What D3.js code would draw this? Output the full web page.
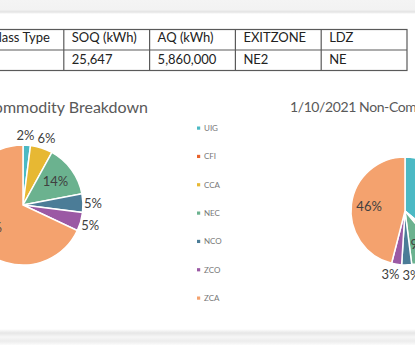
<!DOCTYPE html>
<html><head><meta charset="utf-8">
<script src="https://cdn.jsdelivr.net/npm/d3@7"></script>
<style>html,body{margin:0;padding:0;background:#fff;overflow:hidden}svg{display:block;font-family:Lato,"Open Sans",sans-serif}</style>
</head><body>
<svg id="c" width="415" height="345"></svg>
<script>
const categories = ["UIG","CFI","CCA","NEC","NCO","ZCO","ZCA"];
const commodityValues = [2,0,6,14,5,5,68];
const nonCommodityValues = [36,1,2,9,3,3,46];
const sliceColors = ["#4bb9c4","#e8622c","#e7b833","#6bb28f","#4b7c97","#9b59a4","#f4a26e"];
const tableHeaders = ["Class Type","SOQ (kWh)","AQ (kWh)","EXITZONE","LDZ"];
const tableRow = ["","25,647","5,860,000","NE2","NE"];
const titles = ["1/10/2021 Commodity Breakdown","1/10/2021 Non-Commodity Breakdown"];

const svg = d3.select("#c");
const W = 415, H = 345;
const defs = svg.append("defs");
const gTop = defs.append("linearGradient").attr("id","shTop").attr("x1",0).attr("x2",0).attr("y1",0).attr("y2",1);
gTop.append("stop").attr("offset",0).attr("stop-color","#f4f4f4");
gTop.append("stop").attr("offset",0.7).attr("stop-color","#f2f2f2");
gTop.append("stop").attr("offset",0.85).attr("stop-color","#e3e3e3");
gTop.append("stop").attr("offset",1).attr("stop-color","#ffffff");
const gBot = defs.append("linearGradient").attr("id","shBot").attr("x1",0).attr("x2",0).attr("y1",0).attr("y2",1);
gBot.append("stop").attr("offset",0).attr("stop-color","#ffffff");
gBot.append("stop").attr("offset",0.25).attr("stop-color","#e6e6e6");
gBot.append("stop").attr("offset",0.5).attr("stop-color","#f6f6f6");
gBot.append("stop").attr("offset",0.75).attr("stop-color","#ececec");
gBot.append("stop").attr("offset",1).attr("stop-color","#fbfbfb");

svg.append("rect").attr("width",W).attr("height",H).attr("fill","#fff");
svg.append("rect").attr("x",0).attr("y",0).attr("width",W).attr("height",14).attr("fill","url(#shTop)");
svg.append("rect").attr("x",0).attr("y",329).attr("width",W).attr("height",16).attr("fill","url(#shBot)");

// Table
const col = d3.scaleBand().domain(tableHeaders).range([-22, 407]);
const rowY = d3.scaleBand().domain(["h","r"]).range([29.5, 70.5]);
const tbl = svg.append("g");
tbl.append("rect").attr("x",col.range()[0]).attr("y",29.5).attr("width",col.range()[1]-col.range()[0]).attr("height",41)
  .attr("fill","none").attr("stroke","#5a5a5a").attr("stroke-width",1.2);
tbl.append("line").attr("x1",col.range()[0]).attr("x2",col.range()[1]).attr("y1",rowY("r")).attr("y2",rowY("r"))
  .attr("stroke","#5a5a5a").attr("stroke-width",1.2);
tableHeaders.slice(1).forEach(h=>{
  tbl.append("line").attr("x1",col(h)).attr("x2",col(h)).attr("y1",29.5).attr("y2",70.5).attr("stroke","#5a5a5a").attr("stroke-width",1.2);
});
tableHeaders.forEach((h,i)=>{
  const x0 = col(h);
  tbl.append("text").attr("x", i===0 ? x0+col.bandwidth()-14 : x0+8).attr("y",42)
    .attr("text-anchor", i===0 ? "end":"start")
    .attr("font-size",13).attr("fill","#222").text(h);
  tbl.append("text").attr("x",x0+8).attr("y",64).attr("font-size",13).attr("fill","#222").text(tableRow[i]);
});

// Pies
function drawPie(values, cx, cy, r, title, titleX, titleAnchor, titleY, titleSize, titleSpacing){
  const g = svg.append("g");
  g.append("text").attr("x",titleX).attr("y",titleY).attr("text-anchor",titleAnchor)
    .attr("font-size",titleSize).attr("letter-spacing",titleSpacing).attr("fill","#595959").text(title);
  const data = categories.map((c,i)=>({cat:c, v:values[i], color:sliceColors[i]}));
  const total = d3.sum(values);
  const arcs = d3.pie().sort(null).value(d=>d.v).startAngle(0)(data);
  const arc = d3.arc().innerRadius(0).outerRadius(r);
  const pg = g.append("g").attr("transform",`translate(${cx},${cy})`);
  const shown = arcs.filter(a=>a.data.v>0);
  pg.selectAll("path").data(shown).join("path")
    .attr("d",arc).attr("fill",d=>d.data.color).attr("stroke","#fff").attr("stroke-width",1.5);
  const inArc = d3.arc().innerRadius(r*0.67).outerRadius(r*0.67);
  const outArc = d3.arc().innerRadius(r+10).outerRadius(r+10);
  const labels = shown.map(d=>{
    const pct = d.data.v/total*100;
    const inside = pct>=9;
    const c = (inside ? inArc : outArc).centroid(d);
    const txt = Math.round(pct)+"%";
    return {x:c[0], y:c[1], inside, txt, w: txt.length*8.5};
  });
  // simple collision relaxation for outside labels
  const outs = labels.filter(l=>!l.inside);
  for(let it=0; it<40; it++){
    for(let i=0;i<outs.length;i++) for(let j=i+1;j<outs.length;j++){
      const a=outs[i], b=outs[j];
      const minDx = (a.w+b.w)/2 + 4;
      const dx = b.x-a.x, dy = b.y-a.y;
      if(Math.abs(dy) < 13 && Math.abs(dx) < minDx){
        const push = (minDx-Math.abs(dx))/2 + 0.01;
        const s = dx>=0 ? 1 : -1;
        a.x -= s*push; b.x += s*push;
      }
    }
  }
  pg.selectAll("text").data(labels).join("text")
    .attr("x",d=>d.x).attr("y",d=>d.y)
    .attr("text-anchor","middle").attr("dominant-baseline","central")
    .attr("font-size",13).attr("fill","#404040")
    .text(d=>d.txt);
}
drawPie(commodityValues, 23, 205, 60, titles[0], 148, "end", 113, 16, 0);
drawPie(nonCommodityValues, 405, 211, 54, titles[1], 290, "start", 112, 14, -0.4);

// Legend
const ly = d3.scalePoint().domain(categories).range([128, 298]);
const lg = svg.append("g");
categories.forEach((c,i)=>{
  lg.append("rect").attr("x",197).attr("y",ly(c)-1.5).attr("width",3.2).attr("height",3.2).attr("fill",sliceColors[i]);
  lg.append("text").attr("x",204).attr("y",ly(c)).attr("dominant-baseline","central")
    .attr("font-size",8).attr("fill","#777").text(c);
});
</script>
</body></html>
